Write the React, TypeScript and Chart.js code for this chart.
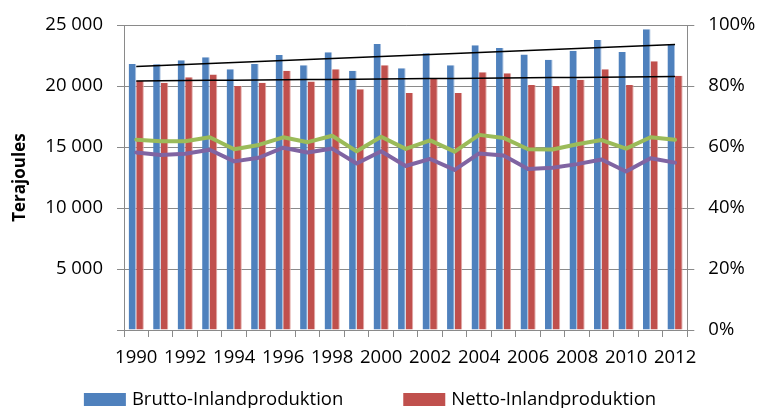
import { useEffect, useRef } from 'react';
import { Chart, registerables } from 'chart.js';

Chart.register(...registerables);

const years = [
  '1990', '1991', '1992', '1993', '1994', '1995', '1996', '1997', '1998', '1999', '2000', '2001',
  '2002', '2003', '2004', '2005', '2006', '2007', '2008', '2009', '2010', '2011', '2012',
];

const brutto = [
  21820, 21800, 22120, 22370, 21390, 21820, 22550, 21710, 22770, 21250, 23450, 21470,
  22690, 21710, 23340, 23120, 22580, 22150, 22900, 23780, 22800, 24650, 23400,
];

const netto = [
  20410, 20270, 20730, 20950, 20000, 20270, 21250, 20380, 21390, 19750, 21710, 19430,
  20650, 19430, 21140, 21060, 20080, 20000, 20510, 21390, 20080, 22040, 20840,
];

const greenPct = [
  62.4, 61.9, 61.9, 63.2, 59.3, 60.7, 63.2, 61.6, 63.7, 58.6, 63.4, 59.4,
  62.2, 58.5, 64.0, 63.0, 59.3, 59.2, 60.9, 62.3, 59.5, 63.2, 62.4,
];

const purplePct = [
  58.2, 57.4, 57.8, 59.1, 55.3, 56.5, 59.8, 58.2, 59.5, 54.6, 58.6, 53.8,
  56.1, 52.5, 57.9, 57.2, 52.8, 53.2, 54.4, 55.9, 52.0, 56.3, 54.9,
];

const leftTicks = [0, 5000, 10000, 15000, 20000, 25000];
const rightTicks = [0, 20, 40, 60, 80, 100];

const FONT = "'Open Sans', sans-serif";
const GRID = '#8a8a8a';

function linearTrend(values: number[]): number[] {
  const n = values.length;
  const mx = (n - 1) / 2;
  const my = values.reduce((a, b) => a + b, 0) / n;
  let sxy = 0;
  let sxx = 0;
  values.forEach((v, i) => {
    sxy += (i - mx) * (v - my);
    sxx += (i - mx) * (i - mx);
  });
  const slope = sxy / sxx;
  return values.map((_, i) => my + slope * (i - mx));
}

function fmtThousands(v: number): string {
  return String(Math.round(v)).replace(/\B(?=(\d{3})+(?!\d))/g, ' ');
}

const bottomLegend = {
  id: 'bottomLegend',
  afterDraw(chart: any) {
    const ctx = chart.ctx as CanvasRenderingContext2D;
    const items = chart.data.datasets.filter((d: any) => d.type !== 'line');
    const fontSize = 18.5;
    const boxW = 42;
    const boxH = 13;
    const gapText = 6;
    const itemGap = 60;
    const centerX = 370;
    const cy = 399.5;
    ctx.save();
    ctx.font = `${fontSize}px ${FONT}`;
    const widths = items.map((d: any) => boxW + gapText + ctx.measureText(d.label).width);
    const total = widths.reduce((a: number, b: number) => a + b, 0) + itemGap * (items.length - 1);
    let x = centerX - total / 2;
    items.forEach((d: any, i: number) => {
      ctx.fillStyle = d.backgroundColor;
      ctx.fillRect(x, cy - boxH / 2, boxW, boxH);
      ctx.fillStyle = '#000';
      ctx.textBaseline = 'middle';
      ctx.textAlign = 'left';
      ctx.fillText(d.label, x + boxW + gapText, cy);
      x += widths[i] + itemGap;
    });
    ctx.restore();
  },
};

export default function App() {
  const canvasRef = useRef<HTMLCanvasElement | null>(null);

  useEffect(() => {
    document.body.style.margin = '0';
    const canvas = canvasRef.current;
    if (!canvas) return;
    const tickFont = { family: FONT, size: 18.5 };
    const chart = new Chart(canvas, {
      type: 'bar',
      data: {
        labels: years,
        datasets: [
          {
            type: 'line',
            label: 'Trend Brutto',
            data: linearTrend(brutto),
            borderColor: '#000000',
            borderWidth: 1.5,
            pointRadius: 0,
            yAxisID: 'y',
            order: 0,
          },
          {
            type: 'line',
            label: 'Trend Netto',
            data: linearTrend(netto),
            borderColor: '#000000',
            borderWidth: 1.5,
            pointRadius: 0,
            yAxisID: 'y',
            order: 0,
          },
          {
            type: 'line',
            label: 'Andel 1',
            data: greenPct,
            borderColor: '#9BBB59',
            borderWidth: 4,
            pointRadius: 0,
            borderJoinStyle: 'round',
            borderCapStyle: 'round',
            yAxisID: 'y1',
            order: 1,
          },
          {
            type: 'line',
            label: 'Andel 2',
            data: purplePct,
            borderColor: '#8064A2',
            borderWidth: 4,
            pointRadius: 0,
            borderJoinStyle: 'round',
            borderCapStyle: 'round',
            yAxisID: 'y1',
            order: 1,
          },
          {
            label: 'Brutto-Inlandproduktion',
            data: brutto,
            backgroundColor: '#4F81BD',
            borderColor: '#A9C1E0',
            borderWidth: { top: 0, left: 0, bottom: 0, right: 1 },
            borderSkipped: false,
            yAxisID: 'y',
            categoryPercentage: 0.62,
            barPercentage: 1,
            order: 10,
          },
          {
            label: 'Netto-Inlandproduktion',
            data: netto,
            backgroundColor: '#C0504D',
            borderColor: '#E3ACAA',
            borderWidth: { top: 0, left: 0, bottom: 0, right: 1 },
            borderSkipped: false,
            yAxisID: 'y',
            categoryPercentage: 0.62,
            barPercentage: 1,
            order: 10,
          },
        ] as any,
      },
      options: {
        animation: false,
        responsive: true,
        maintainAspectRatio: false,
        layout: { padding: { top: 22.5, left: 0, right: 0, bottom: 0 } },
        plugins: {
          legend: { display: false },
          tooltip: { enabled: false },
        },
        scales: {
          x: {
            grid: {
              display: true,
              drawOnChartArea: false,
              drawTicks: true,
              tickLength: 7,
              color: GRID,
              offset: true,
            },
            border: { color: GRID },
            ticks: {
              autoSkip: false,
              maxRotation: 0,
              minRotation: 0,
              padding: 10,
              color: '#000',
              font: tickFont,
              callback: (_v: any, i: number) => (i % 2 === 0 ? years[i] : ''),
            },
            afterFit: (s: any) => {
              s.height = 78;
            },
          },
          y: {
            position: 'left',
            min: leftTicks[0],
            max: leftTicks[leftTicks.length - 1],
            afterBuildTicks: (s: any) => {
              s.ticks = leftTicks.map((v) => ({ value: v }));
            },
            grid: { color: GRID, tickLength: 7 },
            border: { color: GRID },
            ticks: {
              padding: 14,
              color: '#000',
              font: tickFont,
              callback: (v: any) => (Number(v) === 0 ? '' : fmtThousands(Number(v))),
            },
            title: {
              display: true,
              text: 'Terajoules',
              color: '#000',
              font: { family: FONT, size: 17, weight: 'bold' },
              padding: { top: 10, bottom: 0 },
            },
            afterFit: (s: any) => {
              s.width = 124;
            },
          },
          y1: {
            position: 'right',
            min: rightTicks[0],
            max: rightTicks[rightTicks.length - 1],
            afterBuildTicks: (s: any) => {
              s.ticks = rightTicks.map((v) => ({ value: v }));
            },
            grid: { drawOnChartArea: false, tickLength: 7, color: GRID },
            border: { color: GRID },
            ticks: {
              padding: 14,
              color: '#000',
              font: tickFont,
              callback: (v: any) => `${v}%`,
            },
            afterFit: (s: any) => {
              s.width = 760 - 687.3;
            },
          },
        },
      } as any,
      plugins: [bottomLegend],
    });
    return () => chart.destroy();
  }, []);

  return (
    <div style={{ width: 760, height: 408, position: 'relative' }}>
      <canvas ref={canvasRef} />
    </div>
  );
}
